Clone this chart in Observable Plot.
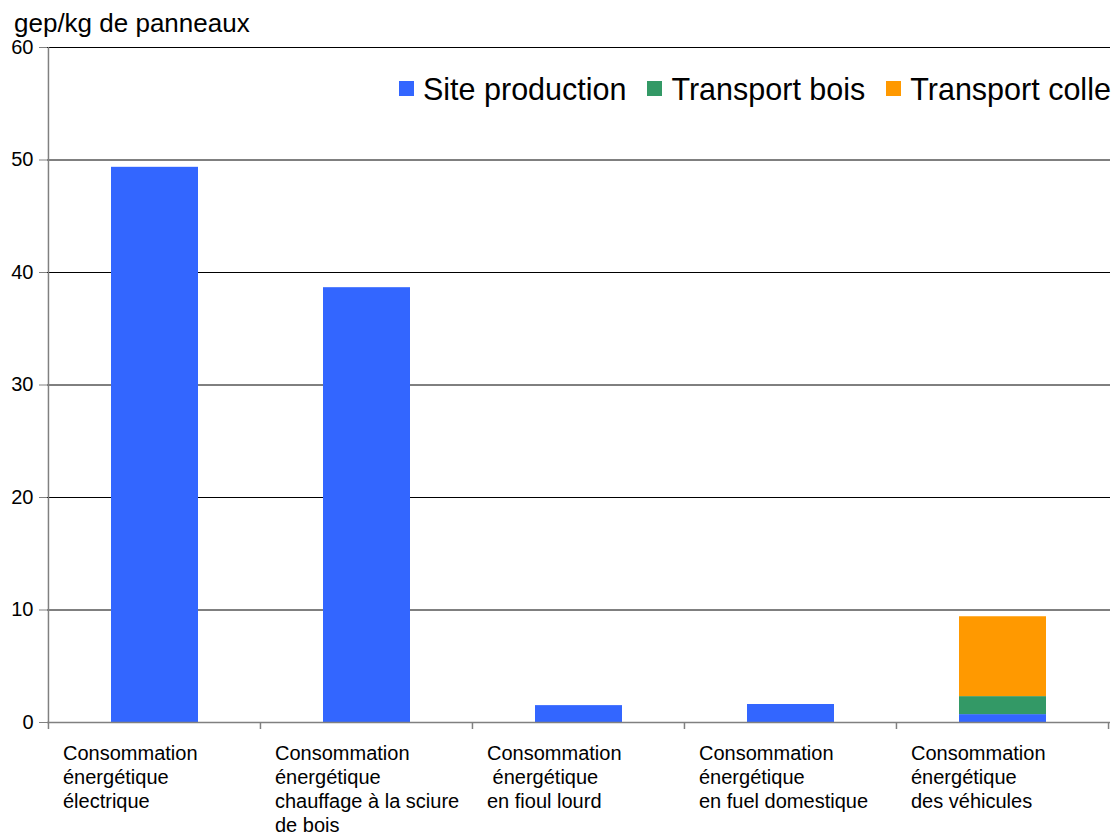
<!DOCTYPE html>
<html>
<head>
<meta charset="utf-8">
<script src="https://cdn.jsdelivr.net/npm/d3@7"></script>
<script src="https://cdn.jsdelivr.net/npm/@observablehq/plot@0.6"></script>
<style>
  html, body { margin: 0; padding: 0; background: #fff; overflow: hidden; }
  body { width: 1120px; height: 834px; position: relative; font-family: "Liberation Sans", Arial, sans-serif; }
  #title { position: absolute; left: 14px; top: 8px; font-size: 26px; color: #000; white-space: nowrap; }
  #legend { position: absolute; left: 399px; top: 72px; font-size: 30.5px; white-space: nowrap; display: flex; align-items: center; color: #000; }
  #legend .item { display: flex; align-items: center; margin-right: 21px; }
  #legend .sw { width: 15px; height: 15px; margin-right: 9px; display: inline-block; position: relative; top: -1px; }
  #chart { position: absolute; left: 0; top: 0; }
</style>
</head>
<body>
<div id="chart"></div>
<div id="title">gep/kg de panneaux</div>
<div id="legend"></div>
<script>
const categories = [
  "Consommation\nénergétique\nélectrique",
  "Consommation\nénergétique\nchauffage à la sciure\nde bois",
  "Consommation\n énergétique\nen fioul lourd",
  "Consommation\nénergétique\nen fuel domestique",
  "Consommation\nénergétique\ndes véhicules"
];
const seriesNames = ["Site production", "Transport bois", "Transport colle"];
const seriesColors = ["#3366FF", "#339966", "#FF9900"];
const siteProduction = [49.35, 38.65, 1.5, 1.6, 0.7];
const transportBois = [0, 0, 0, 0, 1.6];
const transportColle = [0, 0, 0, 0, 7.1];
const yTicks = [0, 10, 20, 30, 40, 50, 60];

const seriesValues = [siteProduction, transportBois, transportColle];
const rows = [];
seriesNames.forEach((s, si) => {
  categories.forEach((c, ci) => {
    rows.push({category: c, series: s, value: seriesValues[si][ci]});
  });
});

const W = 1120, H = 834;
const mL = 47, mR = 10, mT = 47, mB = 112;

const chart = Plot.plot({
  width: W,
  height: H,
  marginLeft: mL,
  marginRight: mR,
  marginTop: mT,
  marginBottom: mB,
  style: {fontFamily: "Liberation Sans, Arial, sans-serif", fontSize: "20px", background: "#fff", color: "#000"},
  x: {domain: categories, paddingInner: 0.59, paddingOuter: 0.295, axis: null},
  y: {domain: [0, 60], axis: null},
  color: {domain: seriesNames, range: seriesColors},
  marks: [
    Plot.ruleY(yTicks.filter(d => d > 0), {stroke: "#000", strokeWidth: 1}),
    Plot.barY(rows, Plot.stackY({order: seriesNames}, {x: "category", y: "value", fill: "series"})),
    Plot.ruleY([0], {stroke: "#808080", strokeWidth: 1.5}),
    Plot.axisY({ticks: yTicks, tickSize: 8, tickPadding: 6, stroke: "#808080", fontSize: 20, color: "#000", label: null}),
    Plot.text(categories, {x: d => d, frameAnchor: "bottom", text: d => d, textAnchor: "start", lineAnchor: "top", dx: -92, dy: 20, lineHeight: 1.2, fontSize: 20, fill: "#000"})
  ]
});
document.getElementById("chart").appendChild(chart);

// y-axis line and category boundary ticks, positioned from the plot's own scales
const xs = chart.scale("x"), ys = chart.scale("y");
const svg = d3.select(chart);
const half = xs.step * xs.paddingOuter;
const bounds = categories.map(c => xs.apply(c) - half)
  .concat([xs.apply(categories[categories.length - 1]) + xs.bandwidth + half]);
svg.append("line")
  .attr("x1", bounds[0]).attr("x2", bounds[0])
  .attr("y1", ys.apply(0)).attr("y2", ys.apply(60))
  .attr("stroke", "#808080").attr("stroke-width", 1.5);
svg.selectAll("line.bt").data(bounds).join("line")
  .attr("class", "bt")
  .attr("x1", d => d).attr("x2", d => d)
  .attr("y1", ys.apply(0)).attr("y2", ys.apply(0) + 7)
  .attr("stroke", "#808080").attr("stroke-width", 1.5);

const legend = document.getElementById("legend");
seriesNames.forEach((s, i) => {
  const it = document.createElement("span");
  it.className = "item";
  it.innerHTML = `<span class="sw" style="background:${seriesColors[i]}"></span>${s}`;
  legend.appendChild(it);
});
</script>
</body>
</html>
